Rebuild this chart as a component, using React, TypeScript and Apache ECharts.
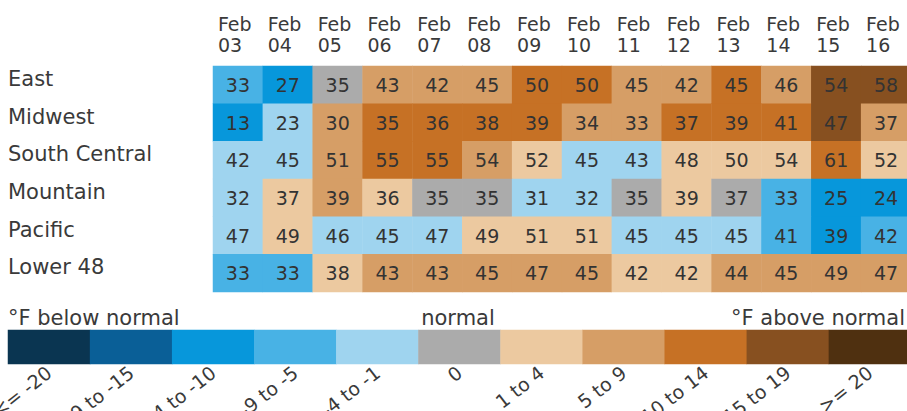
import React, { useEffect, useRef } from "react";
import * as echarts from "echarts";

// Dates (column headers)
const dates = [
  "Feb 03", "Feb 04", "Feb 05", "Feb 06", "Feb 07", "Feb 08", "Feb 09",
  "Feb 10", "Feb 11", "Feb 12", "Feb 13", "Feb 14", "Feb 15", "Feb 16",
];

// Regions (rows)
const regions = ["East", "Midwest", "South Central", "Mountain", "Pacific", "Lower 48"];

// Temperatures (°F) shown in the cells
const tempEast = [33, 27, 35, 43, 42, 45, 50, 50, 45, 42, 45, 46, 54, 58];
const tempMidwest = [13, 23, 30, 35, 36, 38, 39, 34, 33, 37, 39, 41, 47, 37];
const tempSouthCentral = [42, 45, 51, 55, 55, 54, 52, 45, 43, 48, 50, 54, 61, 52];
const tempMountain = [32, 37, 39, 36, 35, 35, 31, 32, 35, 39, 37, 33, 25, 24];
const tempPacific = [47, 49, 46, 45, 47, 49, 51, 51, 45, 45, 45, 41, 39, 42];
const tempLower48 = [33, 33, 38, 43, 43, 45, 47, 45, 42, 42, 44, 45, 49, 47];

// Anomaly bin index (0 = "<= -20" ... 5 = "0" ... 10 = ">= 20") for each cell
const binEast = [3, 2, 5, 7, 7, 7, 8, 8, 7, 7, 8, 7, 9, 9];
const binMidwest = [2, 4, 7, 8, 8, 8, 8, 7, 7, 8, 8, 8, 9, 7];
const binSouthCentral = [4, 4, 7, 8, 8, 7, 6, 4, 4, 6, 6, 6, 8, 6];
const binMountain = [4, 6, 7, 6, 5, 5, 4, 4, 5, 6, 5, 3, 2, 2];
const binPacific = [4, 6, 4, 4, 4, 6, 6, 6, 4, 4, 4, 3, 2, 3];
const binLower48 = [3, 3, 6, 7, 7, 7, 7, 7, 6, 6, 7, 7, 7, 7];

// Legend bins
const binLabels = [
  "<= -20", "-19 to -15", "-14 to -10", "-9 to -5", "-4 to -1", "0",
  "1 to 4", "5 to 9", "10 to 14", "15 to 19", ">= 20",
];
const binColors = [
  "#0a3551", "#0a5f97", "#0797db", "#48b2e5", "#9fd4ef", "#ababab",
  "#ecc9a0", "#d69e66", "#c67125", "#875020", "#4f3010",
];

const temps = [tempEast, tempMidwest, tempSouthCentral, tempMountain, tempPacific, tempLower48];
const bins = [binEast, binMidwest, binSouthCentral, binMountain, binPacific, binLower48];

const FONT = "DejaVu Sans";

export default function App() {
  const ref = useRef<HTMLDivElement>(null);

  useEffect(() => {
    document.body.style.margin = "0";
    if (!ref.current) return;
    const chart = echarts.init(ref.current, null, { renderer: "svg" });

    const cellData: any[] = [];
    regions.forEach((_, r) => {
      dates.forEach((_, c) => {
        cellData.push([c, r, bins[r][c], temps[r][c]]);
      });
    });
    const legendData = binLabels.map((_, i) => [i, 0, i]);

    const option: any = {
      animation: false,
      textStyle: { fontFamily: FONT },
      grid: [
        { left: 213, top: 66, width: 698, height: 226, outerBoundsMode: "none", containLabel: false },
        { left: 8, top: 330, width: 903, height: 34, outerBoundsMode: "none", containLabel: false },
      ],
      xAxis: [
        {
          type: "category",
          gridIndex: 0,
          data: dates,
          position: "top",
          axisLine: { show: false },
          axisTick: { show: false },
          splitLine: { show: false },
          axisLabel: {
            interval: 0,
            margin: 11,
            formatter: (v: string) => {
              const [m, d] = v.split(" ");
              return `{a|${m}}\n{a|${d}}`;
            },
            rich: {
              a: {
                width: 40,
                align: "left",
                fontSize: 19,
                lineHeight: 21,
                color: "#3a3a3a",
                fontFamily: FONT,
              },
            },
          },
        },
        {
          type: "category",
          gridIndex: 1,
          data: binLabels,
          axisLine: { show: false },
          axisTick: { show: false },
          splitLine: { show: false },
          axisLabel: {
            interval: 0,
            rotate: 38,
            margin: 6,
            fontSize: 19,
            color: "#3a3a3a",
            fontFamily: FONT,
          },
        },
      ],
      yAxis: [
        {
          type: "category",
          gridIndex: 0,
          data: regions,
          inverse: true,
          axisLine: { show: false },
          axisTick: { show: false },
          splitLine: { show: false },
          axisLabel: {
            align: "left",
            verticalAlign: "bottom",
            lineHeight: 12,
            margin: 205,
            fontSize: 21,
            color: "#3a3a3a",
            fontFamily: FONT,
          },
        },
        {
          type: "category",
          gridIndex: 1,
          data: [""],
          show: false,
        },
      ],
      visualMap: {
        type: "piecewise",
        show: false,
        dimension: 2,
        seriesIndex: [0, 1],
        pieces: binColors.map((c, i) => ({ value: i, color: c })),
      },
      graphic: [
        {
          type: "text",
          x: 8,
          y: 318,
          style: {
            text: "°F below normal",
            fontSize: 21,
            fontFamily: FONT,
            fill: "#3a3a3a",
            align: "left",
            verticalAlign: "middle",
          },
        },
        {
          type: "text",
          x: 458,
          y: 318,
          style: {
            text: "normal",
            fontSize: 21,
            fontFamily: FONT,
            fill: "#3a3a3a",
            align: "center",
            verticalAlign: "middle",
          },
        },
        {
          type: "text",
          x: 905,
          y: 318,
          style: {
            text: "°F above normal",
            fontSize: 21,
            fontFamily: FONT,
            fill: "#3a3a3a",
            align: "right",
            verticalAlign: "middle",
          },
        },
      ],
      series: [
        {
          type: "heatmap",
          xAxisIndex: 0,
          yAxisIndex: 0,
          data: cellData,
          label: {
            show: true,
            formatter: (p: any) => String(p.value[3]),
            fontSize: 19,
            color: "#333333",
            fontFamily: FONT,
          },
          emphasis: { disabled: true },
        },
        {
          type: "heatmap",
          xAxisIndex: 1,
          yAxisIndex: 1,
          data: legendData,
          label: { show: false },
          emphasis: { disabled: true },
        },
      ],
    };

    chart.setOption(option);
    return () => chart.dispose();
  }, []);

  return <div ref={ref} style={{ width: 907, height: 411 }} />;
}
